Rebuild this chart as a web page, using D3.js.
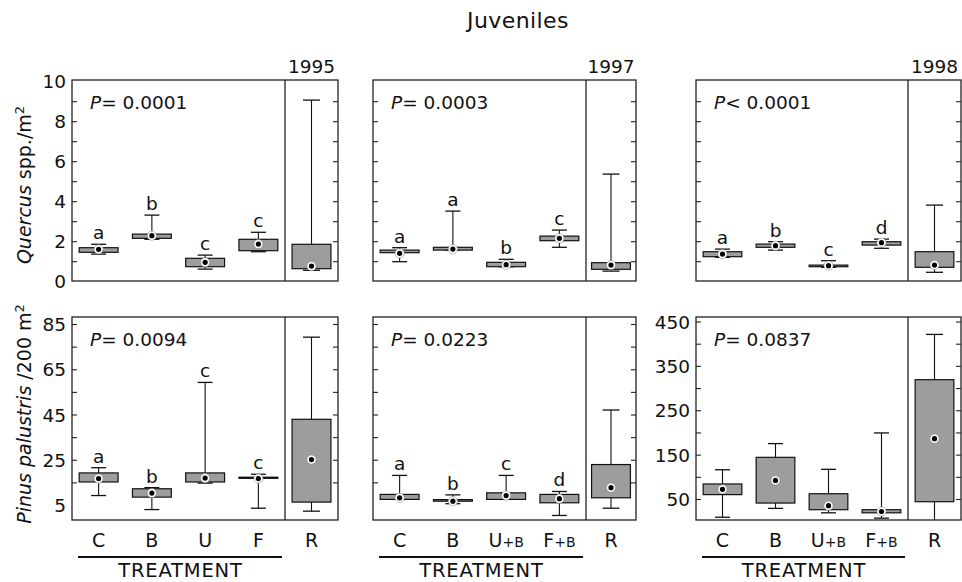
<!DOCTYPE html>
<html><head><meta charset="utf-8">
<script src="https://cdn.jsdelivr.net/npm/d3@7"></script>
<style>
body{margin:0;background:#fff}
text{font-family:"DejaVu Sans",sans-serif;fill:#111}
</style>
</head><body>
<svg id="c" width="962" height="582"></svg>
<script>
// ---------- data ----------
const title = "Juveniles";
const years = ["1995", "1997", "1998"];
const treatments1995 = ["C", "B", "U", "F"];
const treatmentsLater = ["C", "B", "U+B", "F+B"];
const reference = "R";
const xTitle = "TREATMENT";

// each row: [min, q1, q3, max, mean]  for the 4 treatments, then R
const quercus1995 = [[1.38,1.47,1.70,1.87,1.62],[2.12,2.17,2.38,3.33,2.30],[0.63,0.75,1.17,1.33,0.97],[1.50,1.55,2.12,2.47,1.88],[0.57,0.65,1.87,9.08,0.78]];
const quercus1997 = [[1.00,1.45,1.58,1.70,1.42],[1.58,1.58,1.72,3.53,1.63],[0.75,0.75,0.97,1.12,0.85],[1.72,2.05,2.28,2.58,2.17],[0.53,0.62,0.95,5.38,0.83]];
const quercus1998 = [[1.22,1.25,1.50,1.63,1.38],[1.58,1.72,1.88,2.00,1.80],[0.72,0.75,0.83,1.05,0.80],[1.67,1.83,2.00,2.13,1.95],[0.47,0.72,1.50,3.83,0.83]];
const pinus1995 = [[9.4,15.4,19.4,21.7,16.9],[3.2,8.7,12.4,12.9,10.5],[14.9,15.4,19.4,59.4,17.1],[3.8,17.0,17.5,18.8,16.9],[2.5,6.5,43.1,79.4,25.3]];
const pinus1997 = [[7.7,7.7,9.9,18.3,8.4],[5.8,6.9,7.6,9.7,6.9],[7.7,7.7,10.6,18.3,9.4],[0.6,6.2,9.9,11.2,8.0],[3.8,8.4,23.1,47.2,12.9]];
const pinus1998 = [[10,61,85,117,73],[30,42,145,176,93],[20,27,63,118,36],[8,20,27,200,23],[4,45,320,422,187]];

const quercusLetters = [["a","b","c","c"],["a","a","b","c"],["a","b","c","d"]];
const pinusLetters = [["a","b","c","c"],["a","b","c","d"],[]];
const quercusP = ["= 0.0001", "= 0.0003", "< 0.0001"];
const pinusP = ["= 0.0094", "= 0.0223", "= 0.0837"];

const quercusTickLabels = [0, 2, 4, 6, 8, 10];
const quercusTicks = [1,2,3,4,5,6,7,8,9];
const pinusTickLabels = [5, 25, 45, 65, 85];
const pinusTicks = [15,25,35,45,55,65,75,85];
const pinus1998TickLabels = [50, 150, 250, 350, 450];
const pinus1998Ticks = [50,100,150,200,250,300,350,400,450];

// ---------- layout ----------
const svg = d3.select("#c");
const cols = [{L:72, D:285, R:338}, {L:373, D:586, R:636}, {L:696, D:908, R:961}];
const rowTop = {top:80, bottom:281};
const rowBot = {top:317, bottom:520};

const yQ = d3.scaleLinear().domain([0, 10]).range([281.7, 81.7]);
const yP = d3.scaleLinear().domain([5, 85]).range([505.5, 324.5]);
const yP98 = d3.scaleLinear().domain([50, 450]).range([499.5, 322]);

const BOXFILL = "#9d9d9d";

svg.append("text").attr("x", 518).attr("y", 28).attr("text-anchor", "middle")
  .style("font-size", "22px").style("letter-spacing", "0.4px").text(title);

function panel(ci, row, y, data, letters, pText, cats, ticks, tickLabels, showXLabels) {
  const c = cols[ci];
  const g = svg.append("g");
  g.append("rect").attr("x", c.L).attr("y", row.top).attr("width", c.R - c.L).attr("height", row.bottom - row.top)
    .attr("fill", "none").attr("stroke", "#222").attr("stroke-width", 1.3);
  g.append("line").attr("x1", c.D).attr("x2", c.D).attr("y1", row.top).attr("y2", row.bottom)
    .attr("stroke", "#222").attr("stroke-width", 1.3);
  ticks.forEach(t => {
    const yy = y(t);
    g.append("line").attr("x1", c.L).attr("x2", c.L + 5).attr("y1", yy).attr("y2", yy).attr("stroke", "#222").attr("stroke-width", 1.1);
    g.append("line").attr("x1", c.R - 5).attr("x2", c.R).attr("y1", yy).attr("y2", yy).attr("stroke", "#222").attr("stroke-width", 1.1);
  });
  if (tickLabels) {
    tickLabels.forEach(t => {
      g.append("text").attr("x", c.L - 6).attr("y", y(t)).attr("dy", "0.36em").attr("text-anchor", "end")
        .style("font-size", "18.5px").text(t);
    });
  }
  const pt = g.append("text").attr("x", c.L + 18).attr("y", row.top + 29).style("font-size", "18.5px");
  pt.append("tspan").style("font-style", "italic").text("P");
  pt.append("tspan").text(pText);

  const x = d3.scaleBand().domain(cats).range([c.L, c.D]).paddingInner(0.27).paddingOuter(0.135);
  const bw = x.bandwidth();
  const centers = cats.map(k => x(k) + bw / 2).concat([(c.D + c.R) / 2]);
  data.forEach((d, i) => {
    const [mn, q1, q3, mx, mean] = d;
    const cx = centers[i];
    const capW = i === 4 ? 17 : 15;
    const bx = g.append("g");
    bx.append("line").attr("x1", cx).attr("x2", cx).attr("y1", y(mx)).attr("y2", y(mn)).attr("stroke", "#111").attr("stroke-width", 1.1);
    bx.append("line").attr("x1", cx - capW/2).attr("x2", cx + capW/2).attr("y1", y(mx)).attr("y2", y(mx)).attr("stroke", "#111").attr("stroke-width", 1.3);
    if (y(mn) < row.bottom - 1)
      bx.append("line").attr("x1", cx - capW/2).attr("x2", cx + capW/2).attr("y1", y(mn)).attr("y2", y(mn)).attr("stroke", "#111").attr("stroke-width", 1.3);
    bx.append("rect").attr("x", cx - bw/2).attr("y", y(q3)).attr("width", bw).attr("height", Math.max(0.5, y(q1) - y(q3)))
      .attr("fill", BOXFILL).attr("stroke", "#111").attr("stroke-width", 1.2);
    bx.append("circle").attr("cx", cx).attr("cy", y(mean)).attr("r", 4.6).attr("fill", "#fff").attr("stroke", "#777").attr("stroke-width", 0.5);
    bx.append("circle").attr("cx", cx).attr("cy", y(mean)).attr("r", 2.6).attr("fill", "#000");
    if (i < 4 && letters[i]) {
      g.append("text").attr("x", cx).attr("y", y(mx) - 5).attr("text-anchor", "middle")
        .style("font-size", "18.5px").text(letters[i]);
    }
  });
  if (showXLabels) {
    cats.concat([reference]).forEach((k, i) => {
      const t = g.append("text").attr("x", centers[i]).attr("y", 547).attr("text-anchor", "middle").style("font-size", "19px");
      const parts = k.split("+");
      t.append("tspan").text(parts[0]);
      if (parts.length > 1) t.append("tspan").style("font-size", "14px").text("+" + parts[1]);
    });
    g.append("line").attr("x1", c.L + 6).attr("x2", c.D - 3).attr("y1", 557).attr("y2", 557).attr("stroke", "#111").attr("stroke-width", 1.8);
    g.append("text").attr("x", (c.L + c.D) / 2 + 2).attr("y", 577).attr("text-anchor", "middle")
      .style("font-size", "19.5px").style("letter-spacing", "0.8px").text(xTitle);
  } else {
    g.append("text").attr("x", (c.D + c.R) / 2).attr("y", row.top - 7).attr("text-anchor", "middle")
      .style("font-size", "18.5px").text(years[ci]);
  }
}

const qData = [quercus1995, quercus1997, quercus1998];
const pData = [pinus1995, pinus1997, pinus1998];
[0,1,2].forEach(i => {
  const cats = i === 0 ? treatments1995 : treatmentsLater;
  panel(i, rowTop, yQ, qData[i], quercusLetters[i], quercusP[i], cats, quercusTicks, i === 0 ? quercusTickLabels : null, false);
  const yb = i === 2 ? yP98 : yP;
  panel(i, rowBot, yb, pData[i], pinusLetters[i], pinusP[i], cats, i === 2 ? pinus1998Ticks : pinusTicks,
        i === 0 ? pinusTickLabels : (i === 2 ? pinus1998TickLabels : null), true);
});

const t1 = svg.append("text").attr("transform", "translate(31,185) rotate(-90)").attr("text-anchor", "middle").style("font-size", "19px");
t1.append("tspan").style("font-style", "italic").text("Quercus");
t1.append("tspan").text(" spp./m");
t1.append("tspan").attr("dy", "-0.55em").style("font-size", "13px").text("2");

const t2 = svg.append("text").attr("transform", "translate(31,414) rotate(-90)").attr("text-anchor", "middle").style("font-size", "19px");
t2.append("tspan").style("font-style", "italic").text("Pinus palustris");
t2.append("tspan").text(" /200 m");
t2.append("tspan").attr("dy", "-0.55em").style("font-size", "13px").text("2");
</script>
</body></html>
